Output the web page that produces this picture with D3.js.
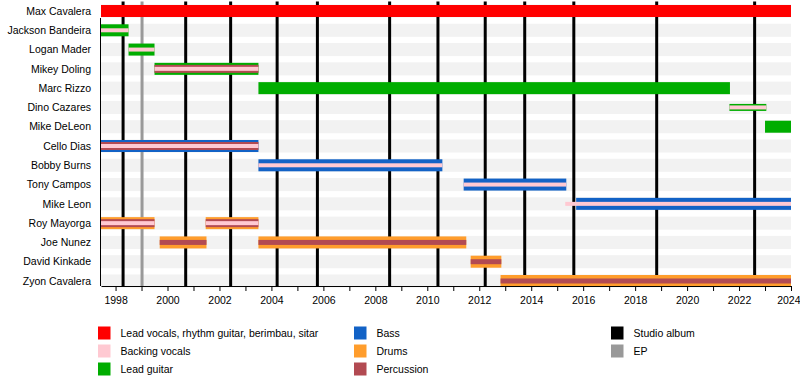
<!DOCTYPE html>
<html lang="en">
<head>
    <meta charset="UTF-8">
    <title>Soulfly members timeline</title>
    <script src="https://d3js.org/d3.v7.min.js"></script>
    <style>
        body {
            margin: 0;
            background: white;
            font-family: Arial, "Liberation Sans", sans-serif;
        }
        svg {
            display: block;
            font: 10.5px Arial, "Liberation Sans", sans-serif;
        }
    </style>
</head>
<body>
<svg width="800" height="385"></svg>
<script>
    // band members, top to bottom
    const members = [
        "Max Cavalera", "Jackson Bandeira", "Logan Mader", "Mikey Doling", "Marc Rizzo",
        "Dino Cazares", "Mike DeLeon", "Cello Dias", "Bobby Burns", "Tony Campos",
        "Mike Leon", "Roy Mayorga", "Joe Nunez", "David Kinkade", "Zyon Cavalera"
    ];

    // main instrument periods [member, role, start, end]
    const mainBars = [
        ["Max Cavalera", "vocals", 1997.44, 2024.0],
        ["Jackson Bandeira", "guitar", 1997.44, 1998.5],
        ["Logan Mader", "guitar", 1998.5, 1999.5],
        ["Mikey Doling", "guitar", 1999.5, 2003.5],
        ["Marc Rizzo", "guitar", 2003.5, 2021.65],
        ["Dino Cazares", "guitar", 2021.63, 2023.05],
        ["Mike DeLeon", "guitar", 2023.0, 2024.0],
        ["Cello Dias", "bass", 1997.44, 2003.5],
        ["Bobby Burns", "bass", 2003.5, 2010.58],
        ["Tony Campos", "bass", 2011.4, 2015.35],
        ["Mike Leon", "bass", 2015.73, 2024.0],
        ["Roy Mayorga", "drums", 1997.44, 1999.5],
        ["Roy Mayorga", "drums", 2001.47, 2003.5],
        ["Joe Nunez", "drums", 1999.7, 2001.5],
        ["Joe Nunez", "drums", 2003.5, 2011.5],
        ["David Kinkade", "drums", 2011.67, 2012.85],
        ["Zyon Cavalera", "drums", 2012.82, 2024.0]
    ];

    // percussion periods
    const percussionBars = [
        ["Mikey Doling", 1999.5, 2003.5],
        ["Cello Dias", 1997.44, 2003.5],
        ["Roy Mayorga", 1997.44, 1999.5],
        ["Roy Mayorga", 2001.47, 2003.5],
        ["Joe Nunez", 1999.7, 2001.5],
        ["Joe Nunez", 2003.5, 2011.5],
        ["David Kinkade", 2011.67, 2012.85],
        ["Zyon Cavalera", 2012.82, 2024.0]
    ];

    // backing vocals periods
    const backingBars = [
        ["Jackson Bandeira", 1997.44, 1998.5],
        ["Logan Mader", 1998.5, 1999.5],
        ["Mikey Doling", 1999.5, 2003.5],
        ["Dino Cazares", 2021.63, 2023.05],
        ["Cello Dias", 1997.44, 2003.5],
        ["Bobby Burns", 2003.5, 2010.58],
        ["Tony Campos", 2011.4, 2015.35],
        ["Mike Leon", 2015.31, 2024.0],
        ["Roy Mayorga", 1997.44, 1999.5],
        ["Roy Mayorga", 2001.47, 2003.5]
    ];

    const studioAlbums = [1998.29, 2000.70, 2002.43, 2004.22, 2005.77, 2008.55, 2010.41,
        2012.23, 2013.75, 2015.64, 2018.83, 2022.60];
    const eps = [1999.02];

    const tickYears = d3.range(1998, 2025);

    const legendItems = [
        ["vocals", "Lead vocals, rhythm guitar, berimbau, sitar"],
        ["backing", "Backing vocals"],
        ["guitar", "Lead guitar"],
        ["bass", "Bass"],
        ["drums", "Drums"],
        ["percussion", "Percussion"],
        ["studio", "Studio album"],
        ["ep", "EP"]
    ];

    const colors = {
        vocals: "#ff0000",
        backing: "#ffc9d2",
        guitar: "#00ad00",
        bass: "#1262c6",
        drums: "#ff9d2c",
        percussion: "#b24a52",
        studio: "#000000",
        ep: "#999999"
    };

    const narrowRows = new Set(["Dino Cazares"]);

    const svg = d3.select("svg"),
        plot = { left: 101, right: 791, top: 1.5, bottom: 286 };

    const x = d3.scaleLinear().domain([1997.44, 2024.0]).range([plot.left, plot.right]);
    const y = d3.scalePoint().domain(members).range([11, 281]);

    // percussion under backing vocals shows as a wider band
    const hasBacking = (name, start) => backingBars.some(b => b[0] === name && Math.abs(b[1] - start) < 0.01);

    // grey background stripes per row
    svg.append("g").selectAll("rect")
        .data(members)
        .enter().append("rect")
        .attr("x", plot.left)
        .attr("y", d => y(d) - 6.5)
        .attr("width", plot.right - plot.left)
        .attr("height", 13)
        .attr("fill", "#f2f2f2");

    // release lines
    svg.append("g").selectAll("line")
        .data(studioAlbums.map(v => ["studio", v]).concat(eps.map(v => ["ep", v])))
        .enter().append("line")
        .attr("x1", d => x(d[1]))
        .attr("x2", d => x(d[1]))
        .attr("y1", plot.top)
        .attr("y2", plot.bottom)
        .attr("stroke", d => colors[d[0]])
        .attr("stroke-width", 3);

    // main bars
    svg.append("g").selectAll("rect")
        .data(mainBars)
        .enter().append("rect")
        .attr("x", d => x(d[2]))
        .attr("width", d => x(d[3]) - x(d[2]))
        .attr("y", d => y(d[0]) - (narrowRows.has(d[0]) ? 3.5 : 6))
        .attr("height", d => narrowRows.has(d[0]) ? 7 : 12)
        .attr("fill", d => colors[d[1]]);

    // percussion layer
    svg.append("g").selectAll("rect")
        .data(percussionBars)
        .enter().append("rect")
        .attr("x", d => x(d[1]))
        .attr("width", d => x(d[2]) - x(d[1]))
        .attr("y", d => y(d[0]) - (hasBacking(d[0], d[1]) ? 4 : 2.5))
        .attr("height", d => hasBacking(d[0], d[1]) ? 8 : 5)
        .attr("fill", colors.percussion);

    // backing vocals layer
    svg.append("g").selectAll("rect")
        .data(backingBars)
        .enter().append("rect")
        .attr("x", d => x(d[1]))
        .attr("width", d => x(d[2]) - x(d[1]))
        .attr("y", d => y(d[0]) - 2)
        .attr("height", 4)
        .attr("fill", colors.backing);

    // member names
    svg.append("g").selectAll("text")
        .data(members)
        .enter().append("text")
        .attr("x", 91)
        .attr("y", d => y(d))
        .attr("dy", "0.35em")
        .attr("text-anchor", "end")
        .attr("fill", "#000")
        .text(d => d);

    // left frame line
    svg.append("line")
        .attr("x1", plot.left - 0.5).attr("x2", plot.left - 0.5)
        .attr("y1", 18).attr("y2", plot.bottom)
        .attr("stroke", "#000");

    // time axis
    const axis = svg.append("g")
        .attr("transform", `translate(0,${plot.bottom})`)
        .call(d3.axisBottom(x)
            .tickValues(tickYears)
            .tickSize(5)
            .tickSizeOuter(0)
            .tickFormat(d => d % 2 === 0 ? d : ""));
    axis.select(".domain").attr("stroke", "#000");
    axis.selectAll(".tick line").attr("stroke", "#000");
    axis.selectAll("text")
        .attr("fill", "#000")
        .style("font", "10.5px Arial, 'Liberation Sans', sans-serif")
        .attr("y", 9)
        .attr("dy", "0.9em");
    // keep the last year label inside the picture
    axis.selectAll(".tick").filter(d => d === 2024).select("text")
        .attr("text-anchor", "end")
        .attr("x", 9);

    // legend, three columns
    const legendCols = [98, 354, 611],
        legendRows = [333, 351, 369];
    const legend = svg.append("g").selectAll("g")
        .data(legendItems)
        .enter().append("g")
        .attr("transform", (d, i) => `translate(${legendCols[Math.floor(i / 3)]},${legendRows[i % 3]})`);
    legend.append("rect")
        .attr("x", 0).attr("y", -6.5)
        .attr("width", 12.5).attr("height", 13)
        .attr("fill", d => colors[d[0]]);
    legend.append("text")
        .attr("x", 22.5)
        .attr("dy", "0.35em")
        .attr("fill", "#000")
        .text(d => d[1]);
</script>
</body>
</html>
